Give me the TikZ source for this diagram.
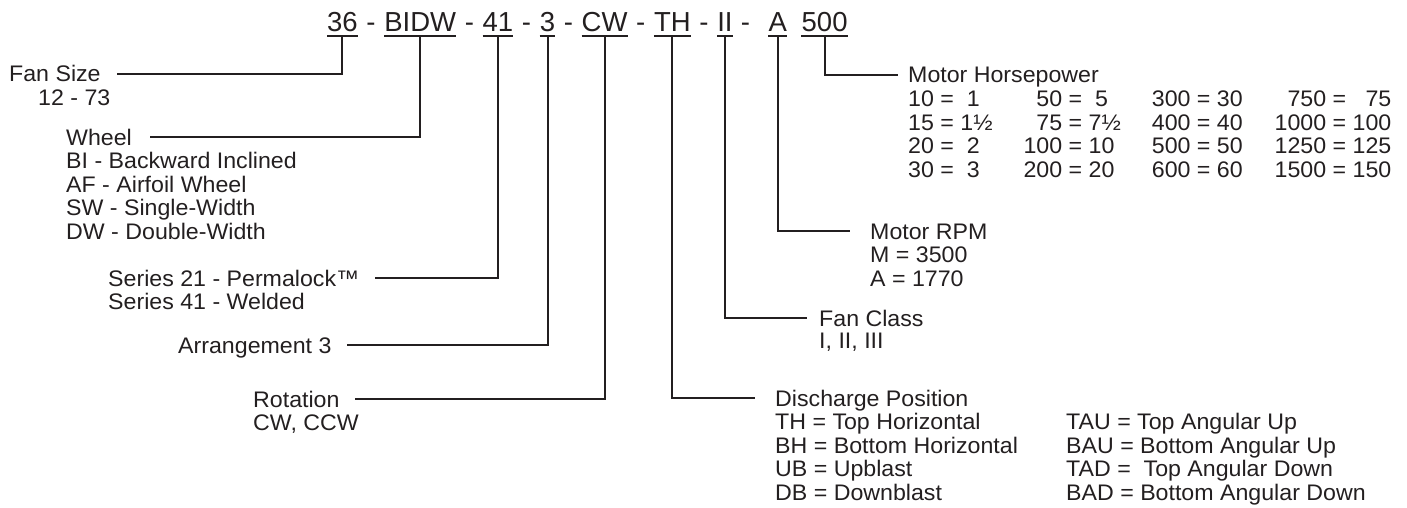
\documentclass[tikz,border=0pt]{standalone}
\usepackage{fontspec}
\setmainfont[FakeStretch=1.03]{Liberation Sans}
\newfontfamily\codefont{Liberation Sans}
\usetikzlibrary{positioning}
\definecolor{printink}{RGB}{35,31,32}

\begin{document}
\begin{tikzpicture}[x=1pt,y=-1pt,
    code/.style={font=\codefont\fontsize{27.5}{27.5}\selectfont, text=printink,
      inner sep=0pt, text height=20pt, text depth=4pt},
    head/.style={font=\fontsize{22.5}{23.5}\selectfont, text=printink,
      inner sep=0pt, text height=16pt, text depth=0pt, anchor=west},
    vals/.style={font=\fontsize{22.5}{23.5}\selectfont, text=printink,
      inner sep=0pt, anchor=north west},
    lead/.style={draw=printink, line width=2pt}]
    \useasboundingbox (0,0) rectangle (1407,508);

    % model code
    \node[code, anchor=base west] (c36) at (327,32) {36};
    \node[code, right=0pt of c36] (d1) {\kern8.3pt-\kern8.3pt};
    \node[code, right=0pt of d1] (cBIDW) {BIDW};
    \node[code, right=0pt of cBIDW] (d2) {\kern8.3pt-\kern8.3pt};
    \node[code, right=0pt of d2] (c41) {41};
    \node[code, right=0pt of c41] (d3) {\kern8.3pt-\kern8.3pt};
    \node[code, right=0pt of d3] (c3) {3};
    \node[code, right=0pt of c3] (d4) {\kern8.3pt-\kern8.3pt};
    \node[code, right=0pt of d4] (cCW) {CW};
    \node[code, right=0pt of cCW] (d5) {\kern8.3pt-\kern8.3pt};
    \node[code, right=0pt of d5] (cTH) {TH};
    \node[code, right=0pt of cTH] (d6) {\kern8.3pt-\kern8.3pt};
    \node[code, right=0pt of d6] (cII) {II};
    \node[code, right=0pt of cII] (d7) {\kern8pt-\kern18pt};
    \node[code, right=0pt of d7] (cA) {A};
    \node[code, right=0pt of cA] (d8) {\kern14pt};
    \node[code, right=0pt of d8] (c500) {500};

    \foreach \c in {c36,cBIDW,c41,c3,cCW,cTH,cII,cA,c500}
      \draw[lead] (\c.south west) -- (\c.south east);

    % left side
    \node[head] (fansize) at (9,74) {Fan Size};
    \node[vals] (fansizev) at ([xshift=29pt,yshift=-7pt]fansize.south west) {12 - 73};

    \node[head] (wheel) at (66,137) {Wheel};
    \node[vals] (wheelv) at ([yshift=-7pt]wheel.south west)
      {\begin{tabular}[t]{@{}l@{}}
        BI - Backward Inclined\\
        AF - Airfoil Wheel\\
        SW - Single-Width\\
        DW - Double-Width
      \end{tabular}};

    \node[head] (series) at (108,278) {Series 21 - Permalock™};
    \node[vals] (seriesv) at ([yshift=-7pt]series.south west) {Series 41 - Welded};

    \node[head] (arrang) at (178,345) {Arrangement 3};

    \node[head] (rotation) at (253,399) {Rotation};
    \node[vals] (rotationv) at ([yshift=-7pt]rotation.south west) {CW, CCW};

    % right side
    \node[head] (hp) at (908,75) {Motor Horsepower};
    \node[vals] (hpv) at ([yshift=-7pt]hp.south west)
      {\begin{tabular}[t]{@{}r@{ = }l@{\hspace{31pt}}r@{ = }l@{\hspace{31pt}}r@{ = }l@{\hspace{32pt}}r@{ = }r@{}}
        10 & \ 1 & 50 & \ 5 & 300 & 30 & 750 & 75\\
        15 & 1½ & 75 & 7½ & 400 & 40 & 1000 & 100\\
        20 & \ 2 & 100 & 10 & 500 & 50 & 1250 & 125\\
        30 & \ 3 & 200 & 20 & 600 & 60 & 1500 & 150
      \end{tabular}};

    \node[head] (rpm) at (870,231) {Motor RPM};
    \node[vals] (rpmv) at ([yshift=-7pt]rpm.south west)
      {\begin{tabular}[t]{@{}l@{}}
        M = 3500\\
        A = 1770
      \end{tabular}};

    \node[head] (fanclass) at (819,318) {Fan Class};
    \node[vals] (fanclassv) at ([yshift=-7pt]fanclass.south west) {I, II, III};

    \node[head] (discharge) at (775,398) {Discharge Position};
    \node[vals] (dischargev) at ([yshift=-7pt]discharge.south west)
      {\begin{tabular}[t]{@{}p{291pt}@{}l@{}}
        TH = Top Horizontal & TAU = Top Angular Up\\
        BH = Bottom Horizontal & BAU = Bottom Angular Up\\
        UB = Upblast & TAD = \ Top Angular Down\\
        DB = Downblast & BAD = Bottom Angular Down
      \end{tabular}};

    % leaders
    \draw[lead] (c36.south) |- ([xshift=16pt]fansize.east);
    \draw[lead] (cBIDW.south) |- ([xshift=18pt]wheel.east);
    \draw[lead] (c41.south) |- ([xshift=15pt]series.east);
    \draw[lead] (c3.south) |- ([xshift=15pt]arrang.east);
    \draw[lead] (cCW.south) |- ([xshift=15pt]rotation.east);
    \draw[lead] (cTH.south) |- ([xshift=-20pt]discharge.west);
    \draw[lead] (cII.south) |- ([xshift=-12pt]fanclass.west);
    \draw[lead] (cA.south) |- ([xshift=-20pt]rpm.west);
    \draw[lead] (c500.south) |- ([xshift=-10pt]hp.west);
\end{tikzpicture}
\end{document}
